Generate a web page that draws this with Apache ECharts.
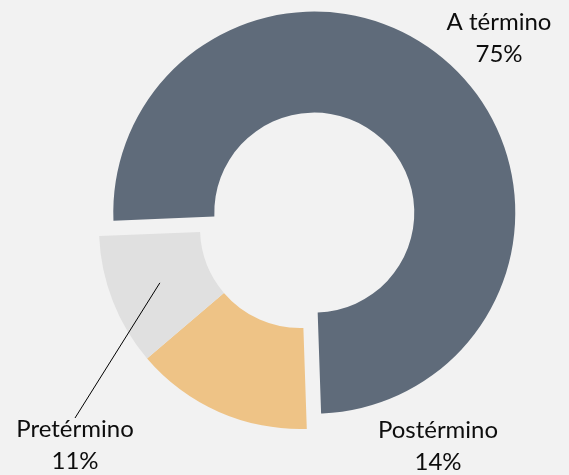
<!DOCTYPE html>
<html lang="es">
<head>
    <meta charset="UTF-8"/>
    <title>Término</title>
    <script src="https://cdn.jsdelivr.net/npm/echarts@6/dist/echarts.min.js"></script>
    <style>
        html, body { margin: 0; padding: 0; background: #f2f2f2; }
    </style>
</head>
<body>
<div id="main" style="width: 569px;height:475px;"></div>

<script type="text/javascript">
    // datos
    var categories = ['A término', 'Postérmino', 'Pretérmino'];
    var values = [75.1, 14.3, 10.6];
    var colors = ['#5f6b7a', '#eec386', '#e0e0e0'];

    // posiciones de las etiquetas (centro x, arriba y)
    var labelPos = [[499, 6], [438, 414], [75, 413]];

    var cx = 300, cy = 228, rIn = 100, rOut = 201, startAngle = 182.3;
    var explode = 21; // desplazamiento del sector "A término"

    // ángulo medio del sector i (radianes)
    function midAngle(i) {
        var total = 0, before = 0;
        for (var k = 0; k < values.length; k++) {
            total += values[k];
            if (k < i) before += values[k];
        }
        return (startAngle - (before + values[i] / 2) / total * 360) * Math.PI / 180;
    }
    // punto medio del sector (para la línea guía)
    function midPoint(i) {
        var a = midAngle(i), r = (rIn + rOut) / 2;
        return [cx + r * Math.cos(a), cy - r * Math.sin(a)];
    }

    var a0 = midAngle(0);
    var cx0 = cx + explode * Math.cos(a0), cy0 = cy - explode * Math.sin(a0);

    // serie base: sectores 2 y 3 ; serie desplazada: sector 1 + etiquetas
    var baseData = [], explodedData = [];
    for (var i = 0; i < categories.length; i++) {
        baseData.push({
            name: categories[i],
            value: values[i],
            itemStyle: { color: i === 0 ? 'rgba(0,0,0,0)' : colors[i] }
        });
        explodedData.push({
            name: categories[i],
            value: values[i],
            itemStyle: { color: i === 0 ? colors[i] : 'rgba(0,0,0,0)' },
            labelLine: { show: i === 2, showAbove: true, lineStyle: { color: '#000', width: 1 } }
        });
    }

    var myChart = echarts.init(document.getElementById('main'));
    var option = {
        backgroundColor: '#f2f2f2',
        animation: false,
        series : [
            {
                type: 'pie',
                z: 2,
                radius : [rIn, rOut],
                center: [cx, cy],
                startAngle: startAngle,
                clockwise: true,
                silent: true,
                label: { show: false },
                labelLine: { show: false },
                data: baseData
            },
            {
                type: 'pie',
                z: 3,
                radius : [rIn, rOut],
                center: [cx0, cy0],
                startAngle: startAngle,
                clockwise: true,
                silent: true,
                avoidLabelOverlap: false,
                label: {
                    show: true,
                    position: 'outside',
                    fontFamily: 'Lato',
                    fontSize: 24,
                    lineHeight: 32,
                    color: '#0d0d0d',
                    formatter: function (p) {
                        return p.name + '\n' + Math.round(p.percent) + '%';
                    }
                },
                labelLine: { show: false },
                labelLayout: function (p) {
                    var pos = labelPos[p.dataIndex];
                    var out = { x: pos[0], y: pos[1], align: 'center', verticalAlign: 'top' };
                    if (p.dataIndex === 2) {
                        out.labelLinePoints = [midPoint(2), [pos[0], pos[1] + 5]];
                    }
                    return out;
                },
                data: explodedData
            }
        ]
    };
    myChart.setOption(option);
</script>
</body>
</html>
